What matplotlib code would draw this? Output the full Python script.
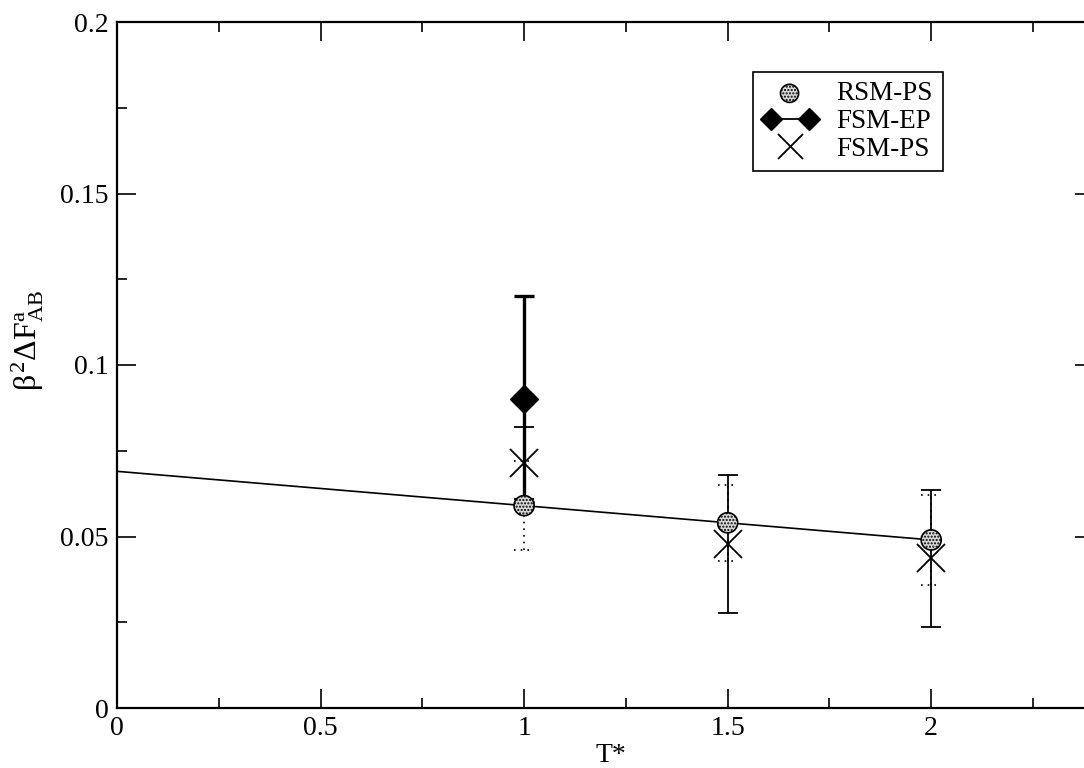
import numpy as np
import matplotlib
matplotlib.use("Agg")
import matplotlib.pyplot as plt
from matplotlib.lines import Line2D
from matplotlib.legend_handler import HandlerLine2D

plt.rcParams['font.family'] = ['Liberation Serif', 'DejaVu Serif']
plt.rcParams['mathtext.fontset'] = 'custom'
plt.rcParams['mathtext.rm'] = 'Liberation Serif'
plt.rcParams['mathtext.it'] = 'Liberation Serif'

# data
T = [1.0, 1.5, 2.0]
rsm_ps = [0.059, 0.054, 0.049]
rsm_ps_err = [0.013, 0.011, 0.013]
fsm_ps = [0.0714, 0.0478, 0.0437]
fsm_ps_err = [0.0105, 0.020, 0.020]
fsm_ep_T = [1.0]
fsm_ep = [0.090]
fsm_ep_err = [0.030]
fit_T = [0.0, 2.0]
fit_y = [0.069, 0.049]

fig = plt.figure(figsize=(10.84, 7.68), dpi=100)
ax = fig.add_axes([117/1084, 60/768, 977/1084, 686/768])

# fit line
ax.plot(fit_T, fit_y, color='black', lw=1.2, zorder=2)

# FSM-EP error bar (thick)
ax.errorbar(fsm_ep_T, fsm_ep, yerr=fsm_ep_err, fmt='none', ecolor='black',
            elinewidth=2.4, capsize=7, capthick=2.4, zorder=3)

# FSM-PS error bars (thin)
ax.errorbar(T, fsm_ps, yerr=fsm_ps_err, fmt='none', ecolor='black',
            elinewidth=1.3, capsize=7.2, capthick=1.3, zorder=3)

# RSM-PS error bars (dotted)
T_a = np.array(T)
y_a = np.array(rsm_ps)
e_a = np.array(rsm_ps_err)
cw = 0.024
ax.vlines(T_a, y_a - e_a, y_a + e_a, colors='black', linestyles=(0, (1, 3)), lw=1.2, zorder=3)
ax.hlines(y_a - e_a, T_a - cw, T_a + cw, colors='black', linestyles=(0, (1, 3)), lw=1.2, zorder=3)
ax.hlines(y_a + e_a, T_a - cw, T_a + cw, colors='black', linestyles=(0, (1, 3)), lw=1.2, zorder=3)

# markers
h_rsm = ax.scatter(T, rsm_ps, s=210, facecolor='#d8d8d8', edgecolor='black', hatch='.....',
                   linewidth=1.2, zorder=5)
ax.plot(fsm_ep_T, fsm_ep, linestyle='none', marker='D', markersize=14,
        color='black', zorder=6)
ax.plot(T, fsm_ps, linestyle='none', marker='x', markersize=20, mew=1.3,
        color='black', zorder=6)

ax.set_xlim(0, 2.4)
ax.set_ylim(0, 0.2)
ax.set_xticks([0, 0.5, 1, 1.5, 2])
ax.set_xticklabels(['0', '0.5', '1', '1.5', '2'])
ax.set_xticks(np.arange(0.25, 2.4, 0.5), minor=True)
ax.set_yticks([0, 0.05, 0.1, 0.15, 0.2])
ax.set_yticklabels(['0', '0.05', '0.1', '0.15', '0.2'])
ax.set_yticks([0.025, 0.075, 0.125, 0.175], minor=True)
ax.tick_params(which='both', direction='in', top=True, right=True,
               labelsize=20, pad=6, width=1.2)
ax.tick_params(which='major', length=14)
ax.tick_params(which='minor', length=7)
for s in ax.spines.values():
    s.set_linewidth(1.6)

ax.set_xlabel('T*', fontsize=20)
ax.xaxis.set_label_coords(0.5056, -0.051)
ax.set_ylabel(r'$\beta^2\Delta\mathrm{F}^{a}_{AB}$', fontsize=23)
ax.yaxis.set_label_coords(-0.073, 0.535)

h_ep = Line2D([], [], color='black', lw=1.3, marker='D', markersize=13)
h_ps = Line2D([], [], linestyle='none', marker='x', markersize=20, mew=1.3, color='black')
leg = ax.legend([h_rsm, h_ep, h_ps], ['RSM-PS', 'FSM-EP', 'FSM-PS'], loc='upper left',
                bbox_to_anchor=(753/1084, 1 - 72/768), bbox_transform=fig.transFigure,
                fontsize=19.5, fancybox=False, edgecolor='black', framealpha=1,
                handlelength=2.0, handletextpad=0.74, labelspacing=0.1,
                borderpad=0.35, borderaxespad=0, scatterpoints=1, numpoints=1,
                markerscale=0.9, handler_map={h_ep: HandlerLine2D(numpoints=2)})
leg.get_frame().set_linewidth(1.2)

fig.savefig('out.png', dpi=100)
